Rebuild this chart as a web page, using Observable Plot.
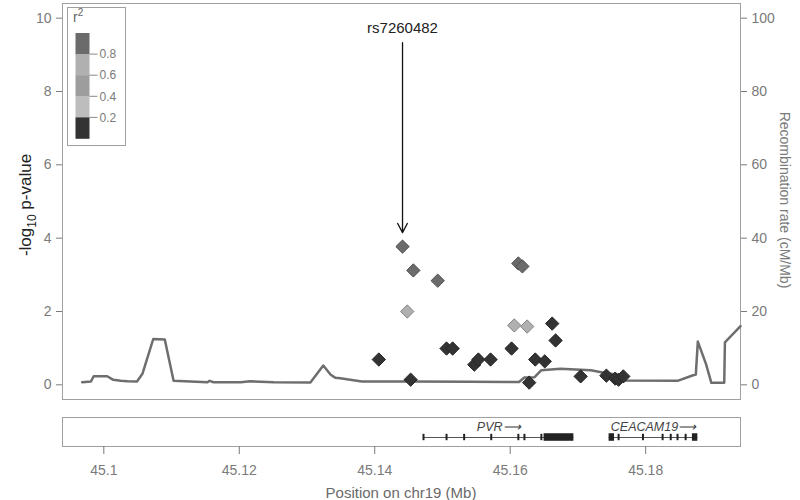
<!DOCTYPE html>
<html><head><meta charset="utf-8">
<script src="https://cdn.jsdelivr.net/npm/d3@7"></script>
<script src="https://cdn.jsdelivr.net/npm/@observablehq/plot@0.6"></script>
<style>
body{margin:0;background:#fff;font-family:"Liberation Sans",Arial,sans-serif;}
#wrap{position:relative;width:800px;height:500px;}
#wrap svg{display:block;overflow:visible}
</style></head><body><div id="wrap"></div>
<script>
// ---- data ----
const snpPos  = [45.1441,45.1457,45.1493,45.1448,45.1506,45.1515,45.1406,45.1547,45.1553,45.1571,45.1453,45.1612,45.1618,45.1606,45.1625,45.1662,45.1667,45.1602,45.1637,45.1651,45.1628,45.1704,45.1742,45.1755,45.1760,45.1767];
const snpLogP = [3.77,3.12,2.84,2.00,0.99,0.99,0.69,0.55,0.69,0.69,0.14,3.31,3.23,1.62,1.59,1.67,1.21,0.99,0.69,0.64,0.06,0.23,0.25,0.17,0.14,0.23];
const snpR2   = [1.0,0.85,0.85,0.65,0.1,0.1,0.1,0.1,0.1,0.1,0.1,0.85,0.85,0.65,0.65,0.1,0.1,0.1,0.1,0.1,0.1,0.1,0.1,0.1,0.1,0.1];
const leadSnp = "rs7260482";

const recombPos  = [45.0968,45.0981,45.0985,45.1005,45.1014,45.1025,45.1035,45.1049,45.1057,45.1073,45.1090,45.1103,45.1153,45.1156,45.1162,45.1202,45.1216,45.1251,45.1305,45.1324,45.1335,45.1342,45.1349,45.1381,45.1453,45.1541,45.1613,45.1621,45.1636,45.1646,45.1674,45.1719,45.1744,45.1752,45.1766,45.1847,45.1869,45.1874,45.1877,45.1889,45.1897,45.1916,45.1917,45.1940];
const recombRate = [0.71,0.9,2.35,2.35,1.36,1.09,0.98,0.9,3.0,12.5,12.35,1.09,0.71,1.09,0.71,0.71,0.98,0.71,0.63,5.26,2.73,1.9,1.8,0.9,0.9,0.82,0.76,2.0,2.1,4.0,4.36,4.0,3.08,2.95,1.17,1.09,2.54,2.8,11.8,5.73,0.55,0.55,11.6,16.0];

const r2Breaks = [0.2,0.4,0.6,0.8];
const r2Colors = ["#333333","#bdbdbd","#9d9d9d","#b0b0b0","#6b6b6b"];

const yTicks = [0,2,4,6,8,10];
const xTicks = [45.1,45.12,45.14,45.16,45.18];
const xDomain = [45.0939, 45.1940];

const geneNames  = ["PVR","CEACAM19"];
const geneStart  = [45.1472,45.1746];
const geneEnd    = [45.1694,45.1877];
const exonPos    = [45.1472,45.1506,45.1532,45.1572,45.1612,45.1621,45.1646,45.1760,45.1796,45.1825,45.1837,45.1847,45.1859];
const blockStart = [45.1650,45.1746,45.1869];
const blockEnd   = [45.1694,45.1754,45.1877];

// ---- build ----
const snps = snpPos.map((p,i)=>({pos:p, logp:snpLogP[i], r2:snpR2[i]}));
const recomb = recombPos.map((p,i)=>({pos:p, rate:recombRate[i]}));
const genes = geneNames.map((n,i)=>({name:n, start:geneStart[i], end:geneEnd[i]}));
const exons = exonPos.map(p=>({pos:p}));
const blocks = blockStart.map((s,i)=>({start:s, end:blockEnd[i]}));
const bandColor = r => r2Colors[Math.min(4, Math.floor(r/0.2))];
const lead = [snps[0]];
const labelY = 9.72, arrowTop = 9.33;

const font = "Liberation Sans, Arial, sans-serif";

const topPlot = Plot.plot({
  width:800, height:400, marginLeft:62, marginRight:60, marginTop:3, marginBottom:1,
  style:{fontFamily:font, fontSize:"14px", color:"#7a7a7a", background:"white", overflow:"visible"},
  x:{domain:xDomain, axis:null},
  y:{domain:[-0.4,10.4], axis:null},
  color:{type:"identity"},
  marks:[
    Plot.frame({stroke:"#a0a0a0"}),
    Plot.axisY({ticks:yTicks, tickSize:6, tickPadding:5, label:null, fontSize:14}),
    Plot.axisY({ticks:yTicks, anchor:"right", tickFormat:d=>d*10, tickSize:6, tickPadding:5, label:null, fontSize:14}),
    Plot.line(recomb,{x:"pos", y:d=>d.rate/10, stroke:"#6e6e6e", strokeWidth:2.5}),
    Plot.dot(snps,{x:"pos", y:"logp", symbol:"diamond2", r:6, fill:d=>bandColor(d.r2), stroke:d=>d3.color(bandColor(d.r2)).darker(0.8).formatHex(), strokeWidth:1}),
    Plot.arrow(lead,{x:"pos", y1:()=>arrowTop, y2:d=>d.logp+0.38, stroke:"#111", strokeWidth:1.3, headLength:12, headAngle:55}),
    Plot.text(lead,{x:"pos", y:()=>labelY, text:()=>leadSnp, fill:"#222", fontSize:15})
  ]
});

const bottomPlot = Plot.plot({
  width:800, height:100, marginLeft:62, marginRight:60, marginTop:17, marginBottom:54,
  style:{fontFamily:font, fontSize:"14px", color:"#7a7a7a", background:"white", overflow:"visible"},
  x:{domain:xDomain, axis:null},
  y:{domain:[0,1], axis:null},
  marks:[
    Plot.frame({stroke:"#a0a0a0"}),
    Plot.axisX({ticks:xTicks, tickSize:8, tickPadding:11, label:null, fontSize:14, tickFormat:d=>String(+d.toFixed(2))}),
    Plot.ruleY(genes,{x1:"start", x2:"end", y:()=>0.31, stroke:"#555", strokeWidth:1}),
    Plot.ruleX(exons,{x:"pos", y1:()=>0.2, y2:()=>0.42, stroke:"#222", strokeWidth:2}),
    Plot.rect(blocks,{x1:"start", x2:"end", y1:()=>0.18, y2:()=>0.44, fill:"#222"}),
    Plot.text(genes,{x:d=>(d.start+d.end)/2, y:()=>0.66, text:d=>d.name+"\u27F6", fontStyle:"italic", fontSize:12.5, fill:"#444"})
  ]
});

const wrap = document.getElementById("wrap");
wrap.appendChild(topPlot);
wrap.appendChild(bottomPlot);

// axis titles
const ts = d3.select(topPlot);
const lt = ts.append("text").attr("transform","translate(31,205) rotate(-90)")
  .attr("text-anchor","middle").attr("font-family",font).attr("font-size",17).attr("fill","#222");
lt.append("tspan").text("-log");
lt.append("tspan").attr("font-size",12).attr("dy",5).text("10");
lt.append("tspan").attr("dy",-5).text(" p-value");
ts.append("text").attr("transform","translate(784,200) rotate(90)")
  .attr("text-anchor","middle").attr("dominant-baseline","middle").attr("font-family",font).attr("font-size",14).attr("fill","#7a7a7a")
  .text("Recombination rate (cM/Mb)");
d3.select(bottomPlot).append("text").attr("x",401).attr("y",98)
  .attr("text-anchor","middle").attr("font-family",font).attr("font-size",15).attr("fill","#6a6a6a")
  .text("Position on chr19 (Mb)");

// r2 legend (inside the plot, top-left)
const lg = ts.append("g").attr("font-family",font).attr("text-anchor","start");
lg.append("rect").attr("x",67.5).attr("y",7.5).attr("width",58).attr("height",138).attr("fill","white").attr("stroke","#a0a0a0");
const lgTitle = lg.append("text").attr("x",73).attr("y",22).attr("font-size",14).attr("fill","#666").attr("text-anchor","start");
lgTitle.append("tspan").text("r");
lgTitle.append("tspan").attr("font-size",10).attr("dy",-6).text("2");
const barTop = 33, bandH = 21.1, barX = 75.5, barW = 14;
const bandsTopDown = r2Colors.slice().reverse();
lg.selectAll("rect.band").data(bandsTopDown).join("rect").attr("class","band")
  .attr("x",barX).attr("y",(d,i)=>barTop+i*bandH).attr("width",barW).attr("height",bandH+0.3).attr("fill",d=>d);
const brk = r2Breaks.slice().reverse();
lg.selectAll("line.tk").data(brk).join("line").attr("class","tk")
  .attr("x1",barX+barW).attr("x2",barX+barW+8).attr("y1",(d,i)=>barTop+(i+1)*bandH).attr("y2",(d,i)=>barTop+(i+1)*bandH).attr("stroke","#888");
lg.selectAll("text.tl").data(brk).join("text").attr("class","tl")
  .attr("x",barX+barW+10).attr("y",(d,i)=>barTop+(i+1)*bandH).attr("dy","0.35em").attr("font-size",12).attr("fill","#7a7a7a").attr("text-anchor","start")
  .text(d=>d.toFixed(1));
</script></body></html>
